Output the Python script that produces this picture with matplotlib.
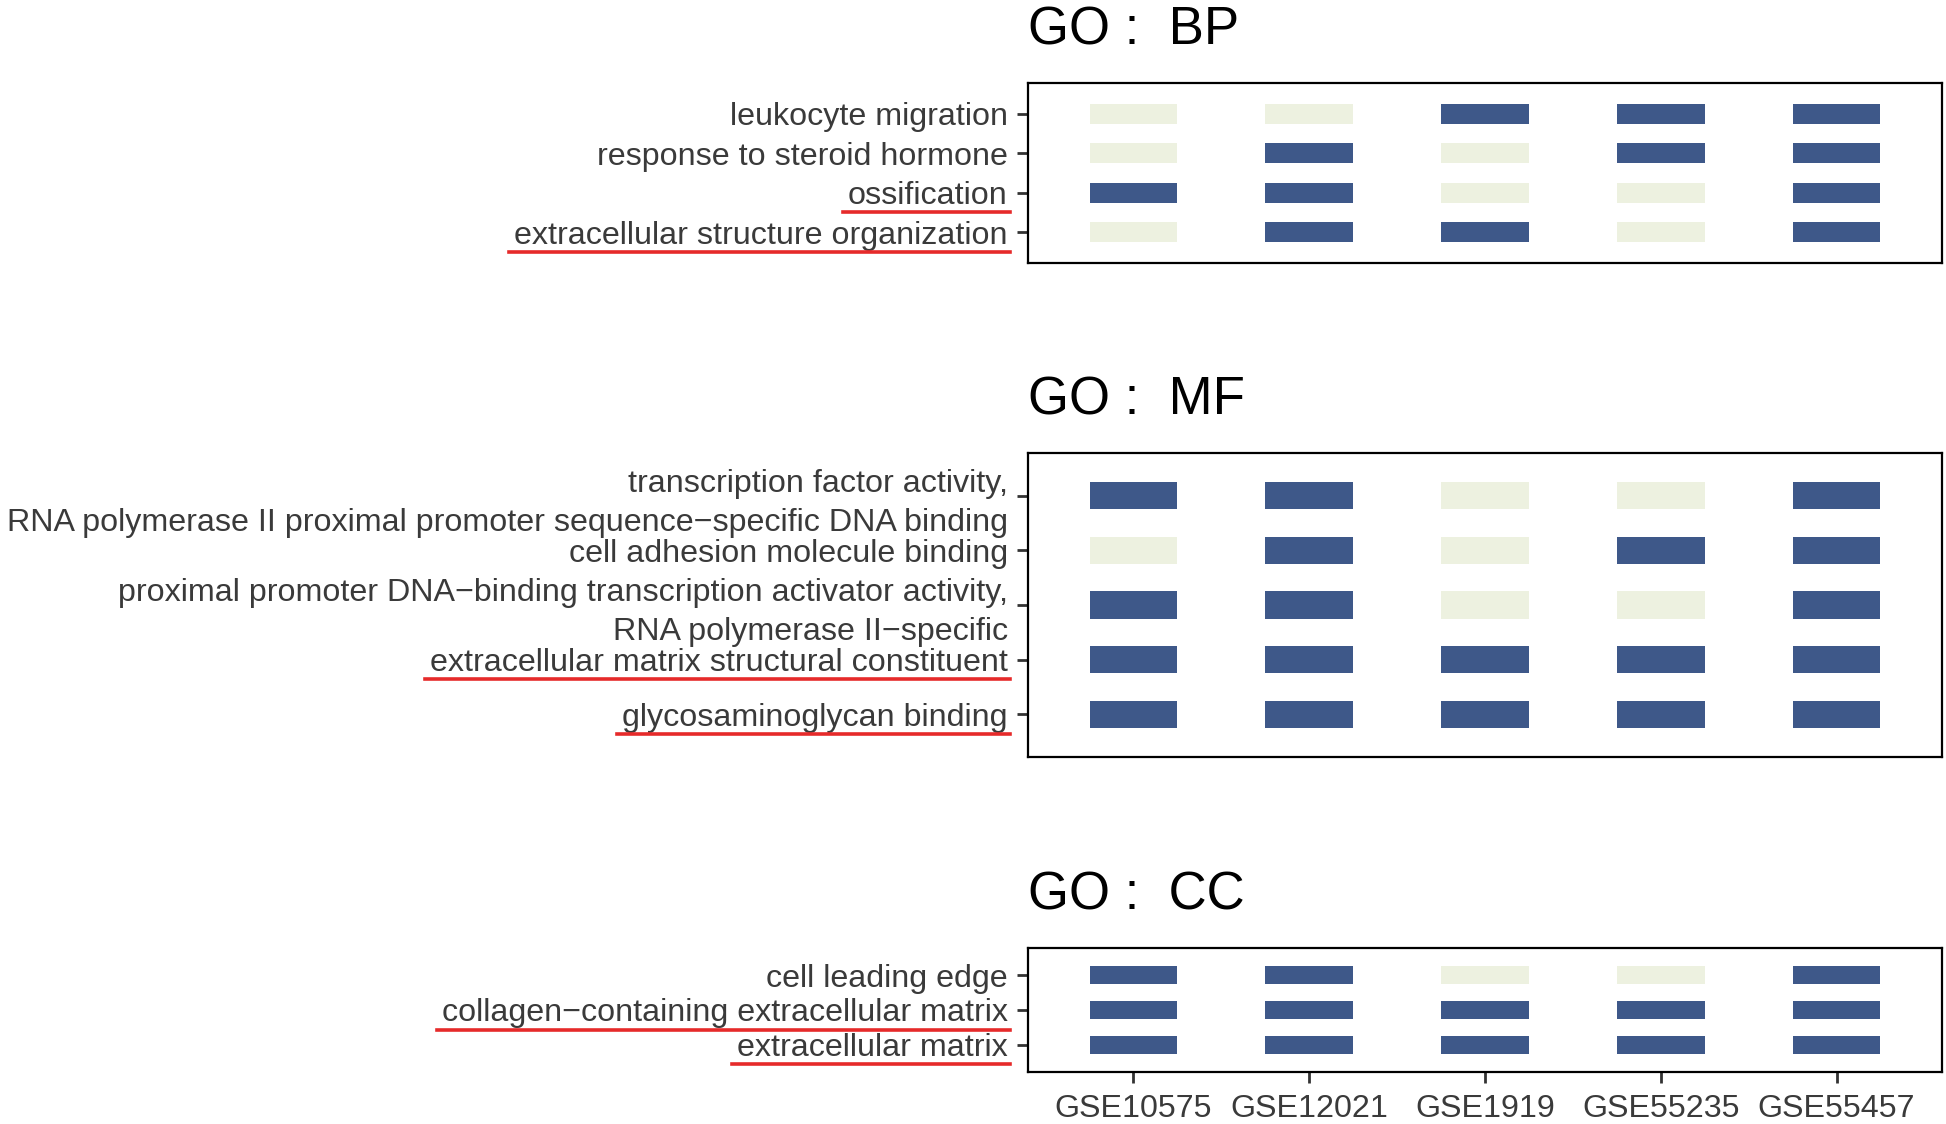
import numpy as np
import matplotlib
matplotlib.use("Agg")
import matplotlib.pyplot as plt
from matplotlib.lines import Line2D

# datasets (x axis)
datasets = ["GSE10575", "GSE12021", "GSE1919", "GSE55235", "GSE55457"]

# GO terms, top to bottom, and whether each dataset is enriched (1) or not (0)
bp_terms = ["leukocyte migration", "response to steroid hormone", "ossification",
            "extracellular structure organization"]
bp_hits = [[0, 0, 1, 1, 1],
           [0, 1, 0, 1, 1],
           [1, 1, 0, 0, 1],
           [0, 1, 1, 0, 1]]

mf_terms = ["transcription factor activity,\nRNA polymerase II proximal promoter sequence\u2212specific DNA binding",
            "cell adhesion molecule binding",
            "proximal promoter DNA\u2212binding transcription activator activity,\nRNA polymerase II\u2212specific",
            "extracellular matrix structural constituent",
            "glycosaminoglycan binding"]
mf_hits = [[1, 1, 0, 0, 1],
           [0, 1, 0, 1, 1],
           [1, 1, 0, 0, 1],
           [1, 1, 1, 1, 1],
           [1, 1, 1, 1, 1]]

cc_terms = ["cell leading edge", "collagen\u2212containing extracellular matrix",
            "extracellular matrix"]
cc_hits = [[1, 1, 0, 0, 1],
           [1, 1, 1, 1, 1],
           [1, 1, 1, 1, 1]]

# terms highlighted with a red underline
highlighted = ["ossification", "extracellular structure organization",
               "extracellular matrix structural constituent", "glycosaminoglycan binding",
               "collagen\u2212containing extracellular matrix", "extracellular matrix"]

titles = ["GO :  BP", "GO :  MF", "GO :  CC"]

col_on = "#3E5889"
col_off = "#EDF1E0"
txt_col = "#3A3A3A"

plt.rcParams['font.family'] = ['Liberation Sans', 'DejaVu Sans']

fig = plt.figure(figsize=(19.46, 11.24), dpi=100)

W, H = 1946, 1124
left = 1028 / W
width = (1942 - 1028) / W
boxes = [(83, 263), (453, 757), (948, 1072)]  # top/bottom pixel of each panel

panels = [(bp_terms, bp_hits), (mf_terms, mf_hits), (cc_terms, cc_hits)]
axes = []
for k, ((terms, hits), (top, bot)) in enumerate(zip(panels, boxes)):
    ax = fig.add_axes([left, 1 - bot / H, width, (bot - top) / H])
    hits = np.array(hits)
    n = len(terms)
    for j in range(n):
        cols = [col_on if h else col_off for h in hits[j]]
        ax.bar(np.arange(len(datasets)), 0.5, width=0.5, bottom=j - 0.25,
               color=cols, edgecolor='none')
    ax.set_xlim(-0.6, len(datasets) - 0.4)
    ax.set_ylim(n - 1 + 0.78, -0.78)
    ax.set_yticks(range(n))
    ax.set_yticklabels(terms, fontsize=23.2, color=txt_col, ha='right',
                       multialignment='right', linespacing=1.38)
    ax.set_xticks(range(len(datasets)))
    ax.tick_params(axis='both', length=8, width=2, color="#333333")
    ax.tick_params(axis='y', pad=6.5)
    if k == 2:
        ax.set_xticklabels(datasets, fontsize=23.2, color=txt_col)
        ax.tick_params(axis='x', pad=8)
    else:
        ax.set_xticklabels([])
        ax.tick_params(axis='x', length=0)
    for s in ax.spines.values():
        s.set_linewidth(1.6)
        s.set_color("black")
    ax.set_title(titles[k], loc='left', fontsize=38, pad=28, color='black')
    axes.append(ax)

# red underlines below highlighted terms
fig.canvas.draw()
renderer = fig.canvas.get_renderer()
for ax in axes:
    for lab in ax.get_yticklabels():
        if lab.get_text() in highlighted:
            bb = lab.get_window_extent(renderer)
            y = bb.y0 - 1
            fig.add_artist(Line2D([(bb.x0 - 5) / W, (bb.x1 + 2) / W], [y / H, y / H],
                                  color="#E62A2A", linewidth=2.6,
                                  transform=fig.transFigure))

fig.savefig("out.png", dpi=100)
